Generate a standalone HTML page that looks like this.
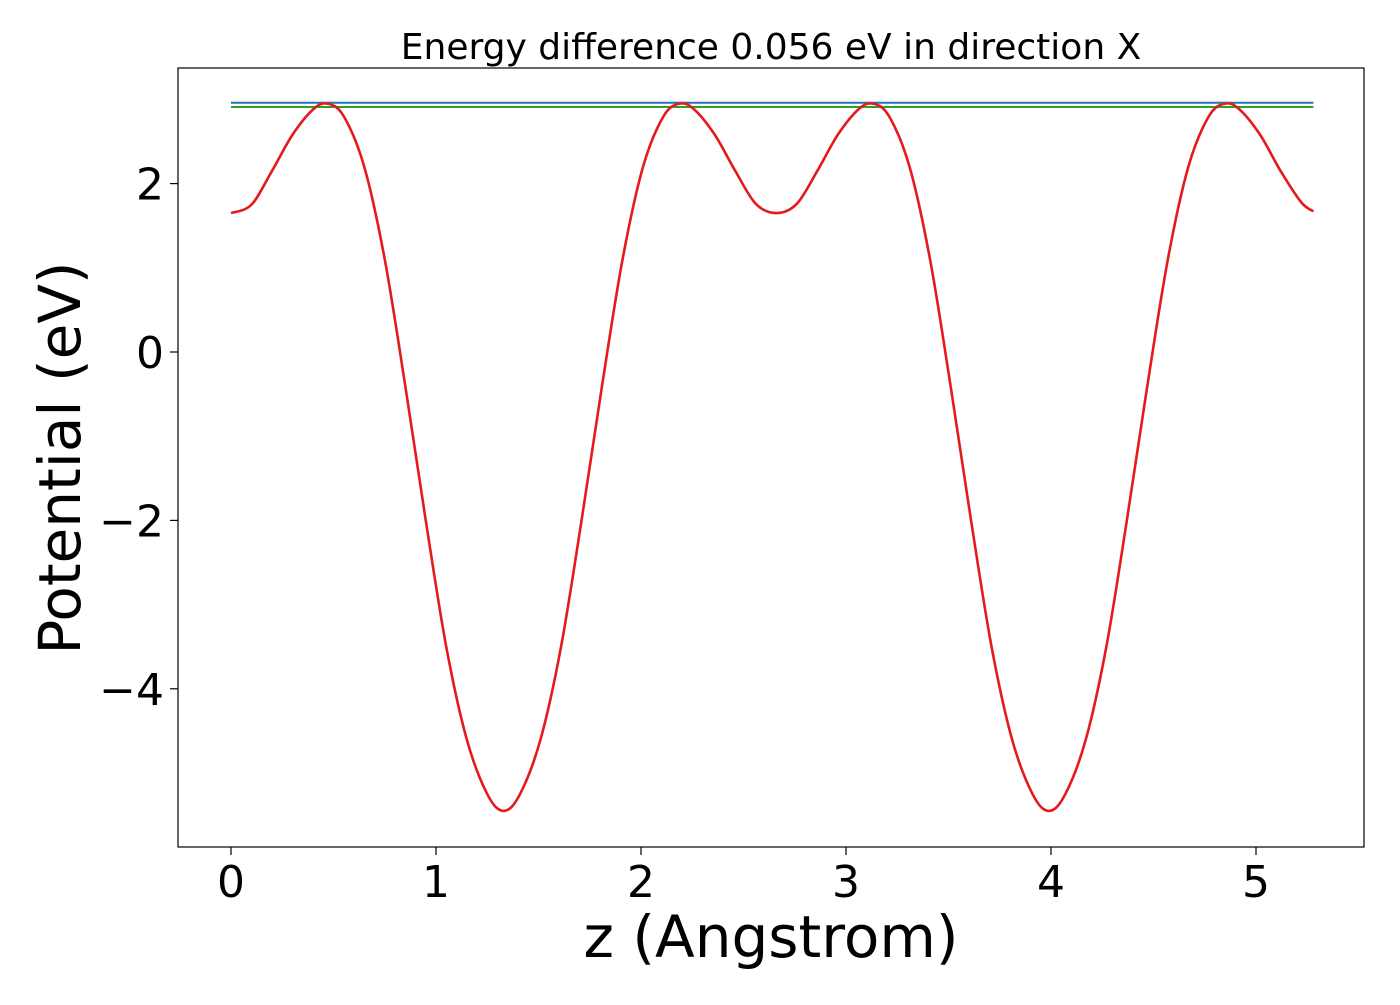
<!DOCTYPE html>
<html><head><meta charset="utf-8"><style>
body{margin:0;background:#fff;}
svg text{font-family:"DejaVu Sans","Liberation Sans",sans-serif;fill:#000;}
</style></head><body>
<svg id="chart" width="1400" height="1000" xmlns="http://www.w3.org/2000/svg">
<text x="771" y="59" font-size="36" text-anchor="middle">Energy difference 0.056 eV in direction X</text>
<rect x="178" y="68" width="1186" height="779" fill="none" stroke="#000" stroke-width="1.2"/>
<g id="xt"></g><g id="yt"></g>
<g id="series"></g>
<text x="771" y="957" font-size="58" text-anchor="middle">z (Angstrom)</text>
<text transform="translate(80,458) rotate(-90)" font-size="58" text-anchor="middle">Potential (eV)</text>
</svg>
<script>
const xTicks=[0,1,2,3,4,5];
const yTicks=[2,0,-2,-4];
const zVals=[0,0.1,0.2,0.3,0.4,0.47,0.55,0.65,0.75,0.85,0.95,1.05,1.15,1.25,1.33,1.41,1.51,1.61,1.71,1.81,1.91,2.01,2.11,2.19,2.26,2.36,2.46,2.56,2.66,2.76,2.86,2.96,3.06,3.13,3.21,3.31,3.41,3.51,3.61,3.71,3.81,3.91,3.99,4.07,4.17,4.27,4.37,4.47,4.57,4.67,4.77,4.85,4.92,5.02,5.12,5.22,5.28];
const potVals=[1.65,1.75,2.15,2.58,2.88,2.95,2.8,2.2,1.1,-0.4,-2.0,-3.5,-4.6,-5.25,-5.45,-5.25,-4.6,-3.5,-2.0,-0.4,1.1,2.2,2.8,2.95,2.88,2.58,2.15,1.76,1.65,1.76,2.15,2.58,2.88,2.95,2.8,2.2,1.1,-0.4,-2.0,-3.5,-4.6,-5.25,-5.45,-5.25,-4.6,-3.5,-2.0,-0.4,1.1,2.2,2.8,2.95,2.88,2.58,2.15,1.78,1.67];
const levelBlue=2.96;
const levelGreen=2.91;
const xRange=[0,5.28];
const NS="http://www.w3.org/2000/svg";
const X=v=>231+v*205;
const Y=v=>352-v*84.2;
function mk(t,a,p){const e=document.createElementNS(NS,t);for(const k in a)e.setAttribute(k,a[k]);p.appendChild(e);return e;}
const xt=document.getElementById('xt'),yt=document.getElementById('yt'),se=document.getElementById('series');
xTicks.forEach(v=>{
 const l=mk('line',{x1:X(v),x2:X(v),y1:847,y2:855,stroke:'#000','stroke-width':1.2},xt);
 
 
 const t=mk('text',{x:X(v),y:897,'font-size':44,'text-anchor':'middle'},xt);
 t.textContent=String(v);
 
 
});
yTicks.forEach(v=>{
 const l=mk('line',{x1:170,x2:178,y1:Y(v),y2:Y(v),stroke:'#000','stroke-width':1.2},yt);
 
 
 const t=mk('text',{x:164,y:Y(v)+16,'font-size':44,'text-anchor':'end'},yt);
 t.textContent=v<0?'\u2212'+Math.abs(v):String(v);
 
 
});
const b=mk('line',{x1:X(xRange[0]),x2:X(xRange[1]),y1:Y(levelBlue),y2:Y(levelBlue),stroke:'#1f77b4','stroke-width':2},se);


const g=mk('line',{x1:X(xRange[0]),x2:X(xRange[1]),y1:Y(levelGreen),y2:Y(levelGreen),stroke:'#2ca02c','stroke-width':2},se);


const P=zVals.map((z,i)=>[X(z),Y(potVals[i])]);
let d='M'+P[0][0]+','+P[0][1];
for(let i=0;i<P.length-1;i++){
 const p0=P[Math.max(0,i-1)],p1=P[i],p2=P[i+1],p3=P[Math.min(P.length-1,i+2)];
 const c1=[p1[0]+(p2[0]-p0[0])/6,p1[1]+(p2[1]-p0[1])/6];
 const c2=[p2[0]-(p3[0]-p1[0])/6,p2[1]-(p3[1]-p1[1])/6];
 d+=' C'+c1+' '+c2+' '+p2;
}
const c=mk('path',{d:d,fill:'none',stroke:'#e41a1c','stroke-width':2.6},se);


</script>
</body></html>
